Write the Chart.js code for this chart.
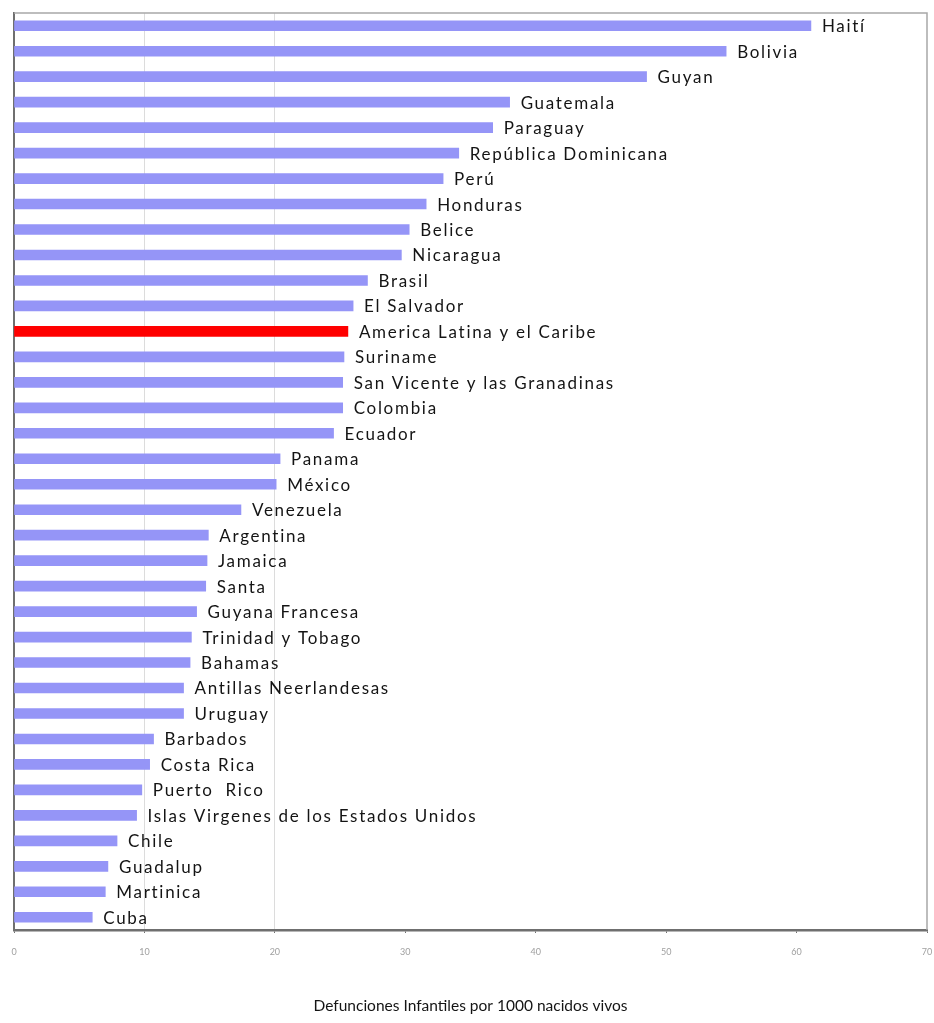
<!DOCTYPE html>
<html>
<head>
<meta charset="utf-8">
<title>Defunciones Infantiles</title>
<script src="https://cdn.jsdelivr.net/npm/chart.js@4/dist/chart.umd.min.js"></script>
<style>
  html, body { margin: 0; padding: 0; background: #fff; }
  #wrap { width: 934px; height: 1023px; }
</style>
</head>
<body>
<div id="wrap"><canvas id="grafico"></canvas></div>
<script>
// Países, de mayor a menor tasa
const paises = [
  'Haití', 'Bolivia', 'Guyan', 'Guatemala', 'Paraguay', 'República Dominicana',
  'Perú', 'Honduras', 'Belice', 'Nicaragua', 'Brasil', 'El Salvador',
  'America Latina y el Caribe', 'Suriname', 'San Vicente y las Granadinas',
  'Colombia', 'Ecuador', 'Panama', 'México', 'Venezuela', 'Argentina',
  'Jamaica', 'Santa', 'Guyana Francesa', 'Trinidad y Tobago', 'Bahamas',
  'Antillas Neerlandesas', 'Uruguay', 'Barbados', 'Costa Rica', 'Puerto  Rico',
  'Islas Virgenes de los Estados Unidos', 'Chile', 'Guadalup', 'Martinica', 'Cuba'
];

// Defunciones infantiles por 1000 nacidos vivos
const tasas = [
  61.1, 54.6, 48.5, 38.0, 36.7, 34.1,
  32.9, 31.6, 30.3, 29.7, 27.1, 26.0,
  25.6, 25.3, 25.2,
  25.2, 24.5, 20.4, 20.1, 17.4, 14.9,
  14.8, 14.7, 14.0, 13.6, 13.5,
  13.0, 13.0, 10.7, 10.4, 9.8,
  9.4, 7.9, 7.2, 7.0, 6.0
];

const ticksX = [0, 10, 20, 30, 40, 50, 60, 70];
const conGrilla = [10, 20];
const promedio = 'America Latina y el Caribe';

const colorBarra = '#9595f7';
const colorPromedio = '#ff0000';

// Etiqueta de cada país al final de su barra
const etiquetas = {
  id: 'etiquetas',
  afterDatasetsDraw(chart) {
    const { ctx } = chart;
    const meta = chart.getDatasetMeta(0);
    ctx.save();
    ctx.font = '17px Lato, "Open Sans", sans-serif';
    ctx.letterSpacing = '1.7px';
    ctx.fillStyle = '#141414';
    ctx.textAlign = 'left';
    ctx.textBaseline = 'middle';
    meta.data.forEach((bar, i) => {
      ctx.fillText(paises[i], bar.x + 11, bar.y + 1);
    });
    ctx.letterSpacing = '0px';
    ctx.restore();
  }
};

// Marco superior y derecho del área de trazado
const marco = {
  id: 'marco',
  beforeDatasetsDraw(chart) {
    const { ctx, chartArea: a } = chart;
    ctx.save();
    ctx.strokeStyle = '#a8a8a8';
    ctx.lineWidth = 1.5;
    ctx.beginPath();
    ctx.moveTo(a.left, a.top);
    ctx.lineTo(a.right, a.top);
    ctx.lineTo(a.right, a.bottom);
    ctx.stroke();
    ctx.restore();
  }
};

new Chart(document.getElementById('grafico'), {
  type: 'bar',
  data: {
    labels: paises,
    datasets: [{
      data: tasas,
      backgroundColor: paises.map(p => p === promedio ? colorPromedio : colorBarra),
      barThickness: 10,
      borderWidth: 0
    }]
  },
  options: {
    indexAxis: 'y',
    responsive: true,
    maintainAspectRatio: false,
    animation: false,
    layout: { padding: { top: 13, left: 14, right: 7, bottom: 8 } },
    plugins: {
      legend: { display: false },
      tooltip: { enabled: false }
    },
    scales: {
      x: {
        min: 0,
        max: 70,
        afterBuildTicks(scale) {
          scale.ticks = ticksX.map(v => ({ value: v }));
        },
        afterFit(scale) {
          scale.height = 85;
          scale.paddingLeft = 0;
          scale.paddingRight = 0;
        },
        grid: {
          color: c => conGrilla.includes(c.tick.value) ? '#dcdcdc' : 'rgba(0,0,0,0)',
          lineWidth: 1,
          drawTicks: true,
          tickLength: 3,
          tickColor: '#6f6f6f'
        },
        border: { display: true, color: '#6f6f6f', width: 2.5 },
        ticks: {
          color: '#a0a0a0',
          font: { size: 9, family: 'Lato, sans-serif' },
          padding: 14,
          maxRotation: 0
        },
        title: {
          display: true,
          text: 'Defunciones Infantiles por 1000 nacidos vivos',
          color: '#141414',
          font: { size: 15.5, family: 'Lato, "Open Sans", sans-serif' },
          padding: { top: 30, bottom: 0 }
        }
      },
      y: {
        afterFit(scale) { scale.width = 0; },
        grid: { display: false, drawTicks: false },
        border: { display: true, color: '#6f6f6f', width: 2 },
        ticks: { display: false }
      }
    }
  },
  plugins: [marco, etiquetas]
});
</script>
</body>
</html>
